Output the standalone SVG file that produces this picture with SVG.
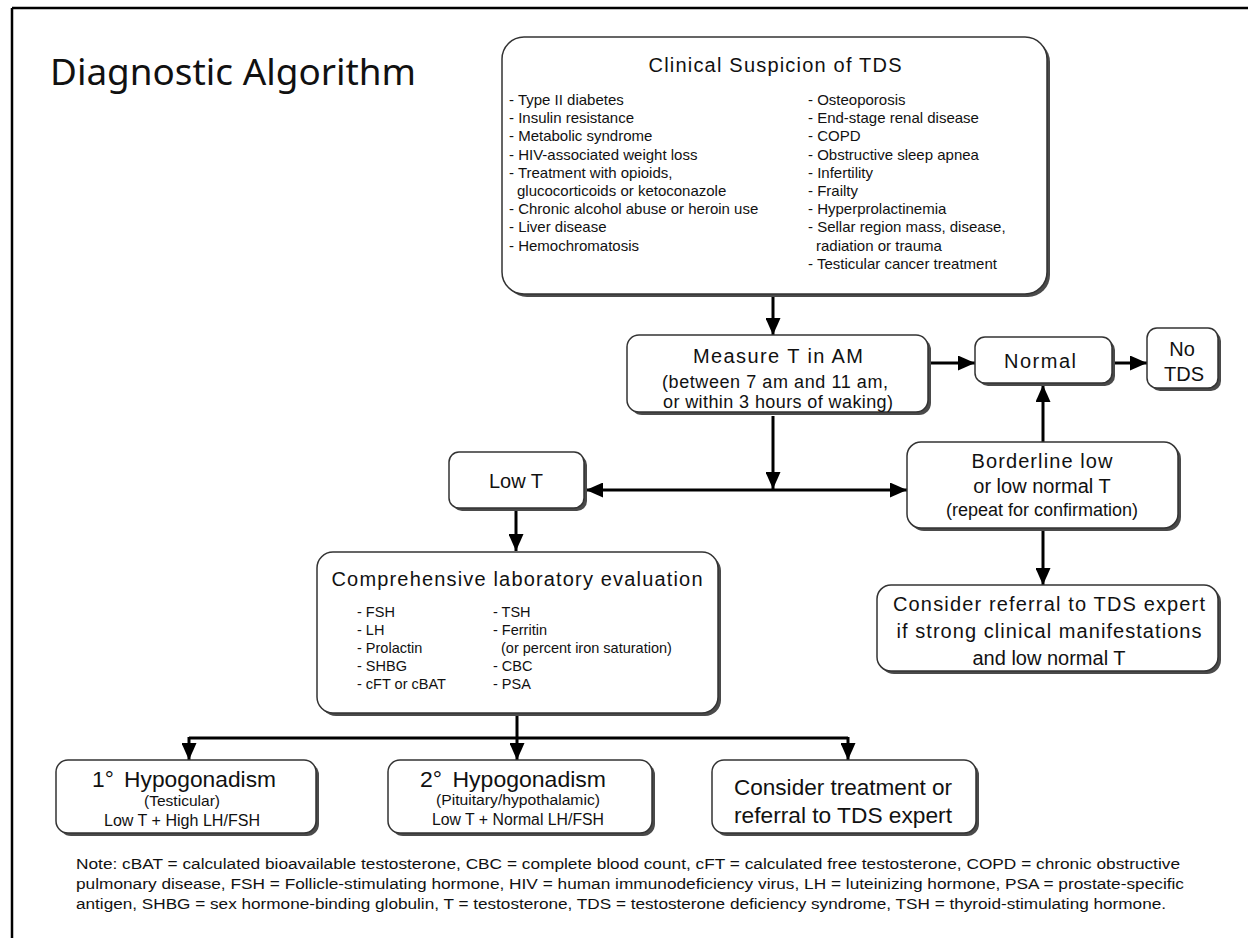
<svg xmlns="http://www.w3.org/2000/svg" width="1248" height="938" viewBox="0 0 1248 938">
<defs>
<style>
.box{fill:#fff;stroke:#333;stroke-width:1.5}
.sh{fill:#4a4a4a}
.t{font-family:"Liberation Sans",Arial,sans-serif;fill:#111}
.h{font-size:20px;text-anchor:middle}
.m{font-size:18px;text-anchor:middle}
.i{font-size:15px}
.s{font-size:14.5px}
.n{font-size:15.5px}
.c{stroke:#000;stroke-width:3;fill:none}
</style>
<marker id="ah" markerUnits="userSpaceOnUse" markerWidth="17" markerHeight="15" refX="17" refY="7.5" orient="auto">
<path d="M0,0 L17,7.5 L0,15 Z" fill="#000"/>
</marker>
<marker id="ahs" markerUnits="userSpaceOnUse" markerWidth="17" markerHeight="15" refX="0" refY="7.5" orient="auto">
<path d="M17,0 L0,7.5 L17,15 Z" fill="#000"/>
</marker>
</defs>
<rect width="1248" height="938" fill="#fff"/>
<g id="frame">
<line x1="12" y1="8" x2="1248" y2="8" stroke="#000" stroke-width="2.5"/>
<line x1="12" y1="8" x2="12" y2="938" stroke="#000" stroke-width="2.5"/>
</g>
<text x="50" y="85" font-family="'Noto Sans','Open Sans',sans-serif" font-size="37" fill="#111" textLength="366" lengthAdjust="spacingAndGlyphs">Diagnostic Algorithm</text>

<g id="connectors">
<line class="c" x1="773" y1="297" x2="773" y2="335" marker-end="url(#ah)"/>
<line class="c" x1="930" y1="363" x2="975" y2="363" marker-end="url(#ah)"/>
<line class="c" x1="1115" y1="363" x2="1147" y2="363" marker-end="url(#ah)"/>
<line class="c" x1="1043" y1="442" x2="1043" y2="385" marker-end="url(#ah)"/>
<line class="c" x1="773" y1="416" x2="773" y2="489" marker-end="url(#ah)"/>
<line class="c" x1="586" y1="490" x2="907" y2="490" marker-start="url(#ahs)" marker-end="url(#ah)"/>
<line class="c" x1="1043" y1="530" x2="1043" y2="585" marker-end="url(#ah)"/>
<line class="c" x1="516" y1="510" x2="516" y2="551" marker-end="url(#ah)"/>
<line class="c" x1="517" y1="715" x2="517" y2="738"/>
<line class="c" x1="189" y1="738" x2="848" y2="738"/>
<line class="c" x1="189" y1="737" x2="189" y2="760" marker-end="url(#ah)"/>
<line class="c" x1="517" y1="737" x2="517" y2="760" marker-end="url(#ah)"/>
<line class="c" x1="848" y1="737" x2="848" y2="760" marker-end="url(#ah)"/>
</g>

<g id="clinical">
<rect class="sh" x="505" y="40" width="545" height="257" rx="22"/>
<rect class="box" x="502" y="37" width="545" height="257" rx="22"/>
<text class="t h" x="775" y="72" textLength="253">Clinical Suspicion of TDS</text>
<g class="t i">
<text x="509" y="105">- Type II diabetes</text>
<text x="509" y="123.2">- Insulin resistance</text>
<text x="509" y="141.4">- Metabolic syndrome</text>
<text x="509" y="159.6">- HIV-associated weight loss</text>
<text x="509" y="177.8">- Treatment with opioids,</text>
<text x="517" y="196">glucocorticoids or ketoconazole</text>
<text x="509" y="214.2">- Chronic alcohol abuse or heroin use</text>
<text x="509" y="232.4">- Liver disease</text>
<text x="509" y="250.6">- Hemochromatosis</text>
<text x="808" y="105">- Osteoporosis</text>
<text x="808" y="123.2">- End-stage renal disease</text>
<text x="808" y="141.4">- COPD</text>
<text x="808" y="159.6">- Obstructive sleep apnea</text>
<text x="808" y="177.8">- Infertility</text>
<text x="808" y="196">- Frailty</text>
<text x="808" y="214.2">- Hyperprolactinemia</text>
<text x="808" y="232.4">- Sellar region mass, disease,</text>
<text x="816" y="250.6">radiation or trauma</text>
<text x="808" y="268.8">- Testicular cancer treatment</text>
</g>
</g>

<g id="measure">
<rect class="sh" x="630" y="338" width="301" height="77" rx="12"/>
<rect class="box" x="627" y="335" width="301" height="77" rx="12"/>
<text class="t h" x="778" y="363" textLength="170">Measure T in AM</text>
<text class="t m" x="775" y="388" textLength="226">(between 7 am and 11 am,</text>
<text class="t m" x="778" y="408" textLength="230">or within 3 hours of waking)</text>
</g>

<g id="normal">
<rect class="sh" x="978" y="340" width="137" height="46" rx="10"/>
<rect class="box" x="975" y="337" width="137" height="46" rx="10"/>
<text class="t h" x="1040" y="368" textLength="72">Normal</text>
</g>

<g id="notds">
<rect class="sh" x="1150" y="331" width="71" height="60" rx="10"/>
<rect class="box" x="1147" y="328" width="71" height="60" rx="10"/>
<text class="t h" x="1182" y="356">No</text>
<text class="t h" x="1184" y="381">TDS</text>
</g>

<g id="lowt">
<rect class="sh" x="452" y="455" width="135" height="56" rx="10"/>
<rect class="box" x="449" y="452" width="135" height="56" rx="10"/>
<text class="t h" x="516" y="488">Low T</text>
</g>

<g id="borderline">
<rect class="sh" x="910" y="445" width="271" height="86" rx="14"/>
<rect class="box" x="907" y="442" width="271" height="86" rx="14"/>
<text class="t h" x="1042" y="468" textLength="141">Borderline low</text>
<text class="t h" x="1042" y="493">or low normal T</text>
<text class="t m" x="1042" y="516">(repeat for confirmation)</text>
</g>

<g id="referral">
<rect class="sh" x="880" y="588" width="341" height="86" rx="14"/>
<rect class="box" x="877" y="585" width="341" height="86" rx="14"/>
<text class="t h" x="1049" y="611" textLength="312">Consider referral to TDS expert</text>
<text class="t h" x="1049" y="638" textLength="305">if strong clinical manifestations</text>
<text class="t h" x="1049" y="665">and low normal T</text>
</g>

<g id="lab">
<rect class="sh" x="320" y="555" width="401" height="161" rx="16"/>
<rect class="box" x="317" y="552" width="401" height="161" rx="16"/>
<text class="t h" x="517" y="586" textLength="371">Comprehensive laboratory evaluation</text>
<g class="t s">
<text x="357" y="617">- FSH</text>
<text x="357" y="635">- LH</text>
<text x="357" y="653">- Prolactin</text>
<text x="357" y="671">- SHBG</text>
<text x="357" y="689">- cFT or cBAT</text>
<text x="493" y="617">- TSH</text>
<text x="493" y="635">- Ferritin</text>
<text x="501" y="653">(or percent iron saturation)</text>
<text x="493" y="671">- CBC</text>
<text x="493" y="689">- PSA</text>
</g>
</g>

<g id="primary">
<rect class="sh" x="59" y="763" width="260" height="73" rx="12"/>
<rect class="box" x="56" y="760" width="260" height="73" rx="12"/>
<text class="t" x="92" y="787" font-size="22" textLength="184" lengthAdjust="spacingAndGlyphs">1°<tspan dx="10">Hypogonadism</tspan></text>
<text class="t" x="182" y="806" font-size="15" text-anchor="middle" textLength="76" lengthAdjust="spacingAndGlyphs">(Testicular)</text>
<text class="t" x="182" y="826" font-size="16" text-anchor="middle" textLength="156" lengthAdjust="spacingAndGlyphs">Low T + High LH/FSH</text>
</g>

<g id="secondary">
<rect class="sh" x="391" y="763" width="264" height="73" rx="12"/>
<rect class="box" x="388" y="760" width="264" height="73" rx="12"/>
<text class="t" x="420" y="787" font-size="22" textLength="186" lengthAdjust="spacingAndGlyphs">2°<tspan dx="10">Hypogonadism</tspan></text>
<text class="t" x="518" y="805" font-size="14" text-anchor="middle" textLength="164" lengthAdjust="spacingAndGlyphs">(Pituitary/hypothalamic)</text>
<text class="t" x="518" y="825" font-size="16" text-anchor="middle" textLength="172" lengthAdjust="spacingAndGlyphs">Low T + Normal LH/FSH</text>
</g>

<g id="treatment">
<rect class="sh" x="715" y="763" width="264" height="73" rx="12"/>
<rect class="box" x="712" y="760" width="264" height="73" rx="12"/>
<text class="t" x="843" y="795" font-size="22" text-anchor="middle" textLength="218" lengthAdjust="spacingAndGlyphs">Consider treatment or</text>
<text class="t" x="843" y="823" font-size="22" text-anchor="middle" textLength="218" lengthAdjust="spacingAndGlyphs">referral to TDS expert</text>
</g>

<g id="note" class="t n">
<text x="76" y="869" textLength="1104" lengthAdjust="spacingAndGlyphs">Note: cBAT = calculated bioavailable testosterone, CBC = complete blood count, cFT = calculated free testosterone, COPD = chronic obstructive</text>
<text x="76" y="889" textLength="1108" lengthAdjust="spacingAndGlyphs">pulmonary disease, FSH = Follicle-stimulating hormone, HIV = human immunodeficiency virus, LH = luteinizing hormone, PSA = prostate-specific</text>
<text x="76" y="909" textLength="1090" lengthAdjust="spacingAndGlyphs">antigen, SHBG = sex hormone-binding globulin, T = testosterone, TDS = testosterone deficiency syndrome, TSH = thyroid-stimulating hormone.</text>
</g>
</svg>
